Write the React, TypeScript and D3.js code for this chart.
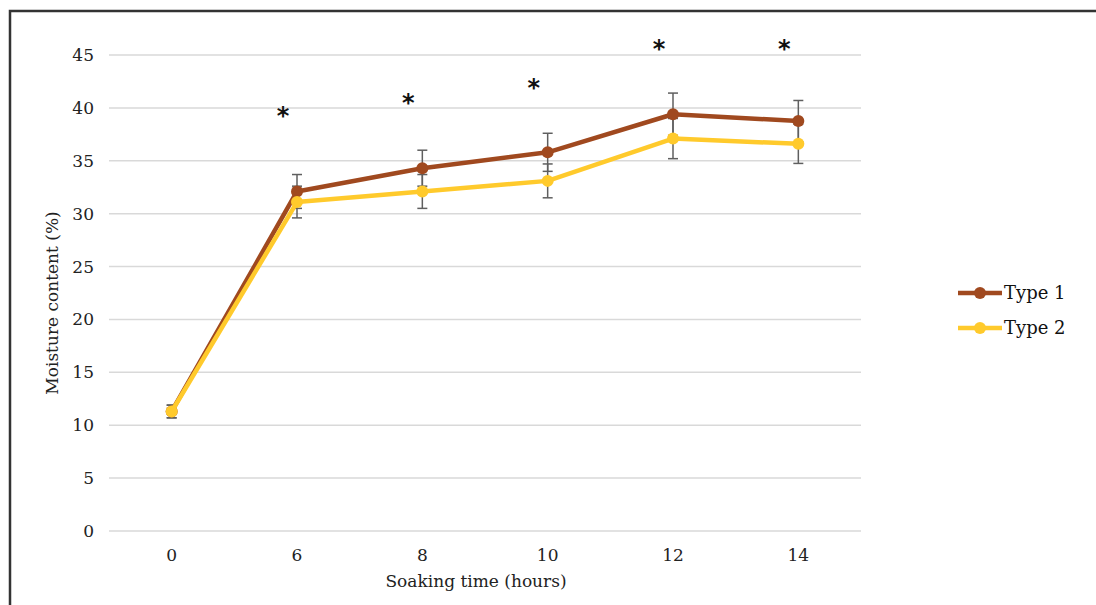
import React from "react";
import * as d3 from "d3";

const categories = ["0", "6", "8", "10", "12", "14"];
const type1 = [11.3, 32.1, 34.3, 35.8, 39.4, 38.75];
const type1Err = [0.6, 1.6, 1.7, 1.8, 2.0, 1.95];
const type2 = [11.3, 31.1, 32.1, 33.1, 37.1, 36.6];
const type2Err = [0.6, 1.5, 1.6, 1.6, 1.9, 1.85];
const significant = [false, true, true, true, true, true];
const asteriskValues = [0, 39.5, 40.7, 42.1, 45.8, 45.8];
const yTicks = [0, 5, 10, 15, 20, 25, 30, 35, 40, 45];
const seriesNames = ["Type 1", "Type 2"];
const seriesColors = ["#A0491F", "#FFCA2C"];

const W = 1096;
const H = 605;
const left = 109;
const right = 861;
const top = 55;
const bottom = 531;
const FONT = "'DejaVu Serif', serif";

export default function App() {
  const x = d3.scalePoint<string>().domain(categories).range([left, right]).padding(0.5);
  const y = d3.scaleLinear().domain([0, 45]).range([bottom, top]);
  const line = d3
    .line<number>()
    .x((_, i) => x(categories[i]) as number)
    .y((d) => y(d));

  const series = [
    { name: seriesNames[0], vals: type1, err: type1Err, color: seriesColors[0] },
    { name: seriesNames[1], vals: type2, err: type2Err, color: seriesColors[1] },
  ];

  return (
    <svg
      width={W}
      height={H}
      style={{ position: "absolute", left: 0, top: 0, background: "#fff" }}
      fontFamily={FONT}
    >
      <rect x={0} y={0} width={W} height={H} fill="#fff" />
      <rect x={10} y={11} width={W + 20} height={H + 20} fill="none" stroke="#333" strokeWidth={2.5} />
      {yTicks.map((t) => (
        <g key={t}>
          <line x1={left} x2={right} y1={y(t)} y2={y(t)} stroke="#D9D9D9" strokeWidth={1.5} />
          <text x={94} y={y(t)} dy="0.35em" textAnchor="end" fontSize={17} fill="#222">
            {t}
          </text>
        </g>
      ))}
      {categories.map((c) => (
        <text key={c} x={x(c)} y={555} dy="0.35em" textAnchor="middle" fontSize={17} fill="#222">
          {c}
        </text>
      ))}
      <text x={476} y={581} dy="0.35em" textAnchor="middle" fontSize={17} fill="#222">
        Soaking time (hours)
      </text>
      <text
        transform={`translate(52,${(top + bottom) / 2 + 10}) rotate(-90)`}
        dy="0.35em"
        textAnchor="middle"
        fontSize={17}
        fill="#222"
      >
        Moisture content (%)
      </text>
      {series.map((s) => (
        <g key={s.name + "err"}>
          {s.vals.map((v, i) => {
            const cx = x(categories[i]) as number;
            return (
              <g key={i} stroke="#5F5F5F" strokeWidth={1.5}>
                <line x1={cx} x2={cx} y1={y(v - s.err[i])} y2={y(v + s.err[i])} />
                <line x1={cx - 5} x2={cx + 5} y1={y(v - s.err[i])} y2={y(v - s.err[i])} />
                <line x1={cx - 5} x2={cx + 5} y1={y(v + s.err[i])} y2={y(v + s.err[i])} />
              </g>
            );
          })}
        </g>
      ))}
      {series.map((s) => (
        <g key={s.name}>
          <path d={line(s.vals) || ""} fill="none" stroke={s.color} strokeWidth={4.5} strokeLinejoin="round" />
          {s.vals.map((v, i) => (
            <circle key={i} cx={x(categories[i])} cy={y(v)} r={6} fill={s.color} />
          ))}
        </g>
      ))}
      {categories.map((c, i) =>
        significant[i] ? (
          <text
            key={"ast" + c}
            x={(x(c) as number) - 14}
            y={y(asteriskValues[i])}
            dy="0.44em"
            textAnchor="middle"
            fontSize={24}
            fontWeight="bold"
            fontFamily="'DejaVu Sans', sans-serif"
            fill="#111"
          >
            *
          </text>
        ) : null
      )}
      {series.map((s, i) => {
        const ly = 293 + i * 35;
        return (
          <g key={"leg" + s.name}>
            <line x1={958} x2={1002} y1={ly} y2={ly} stroke={s.color} strokeWidth={4.5} />
            <circle cx={980} cy={ly} r={6} fill={s.color} />
            <text x={1004} y={ly} dy="0.35em" fontSize={18} fill="#111">
              {s.name}
            </text>
          </g>
        );
      })}
    </svg>
  );
}
